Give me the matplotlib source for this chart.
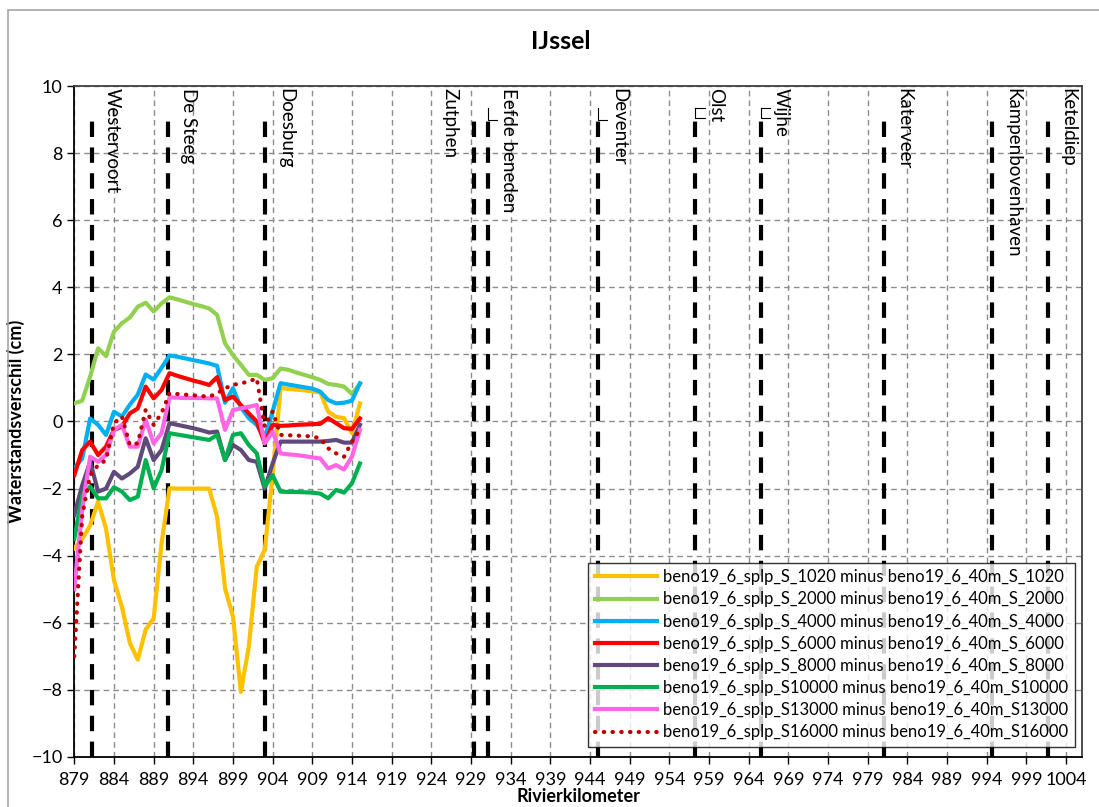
import matplotlib
matplotlib.use('Agg')
import matplotlib.pyplot as plt
from matplotlib.patches import Rectangle

plt.rcParams['font.family'] = ['Lato', 'DejaVu Sans']

# rivierkilometers (shared x for all series)
km = list(range(879, 916))

s1020 = [-3.78, -3.5, -3.1, -2.39, -3.19, -4.73, -5.52, -6.6, -7.1, -6.2, -5.87, -3.63, -1.99,
         -2.0, -2.0, -2.0, -2.0, -2.0, -2.84, -4.97, -5.82, -8.06, -6.7, -4.33, -3.83, -1.6,
         1.0, 0.97, 0.95, 0.93, 0.9, 0.87, 0.29, 0.14, 0.1, -0.35, 0.54]
s2000 = [0.54, 0.62, 1.34, 2.18, 1.95, 2.68, 2.93, 3.1, 3.42, 3.54, 3.28, 3.52, 3.7,
         3.64, 3.57, 3.5, 3.44, 3.37, 3.18, 2.33, 1.98, 1.69, 1.39, 1.39, 1.24, 1.29,
         1.58, 1.54, 1.46, 1.39, 1.32, 1.24, 1.12, 1.09, 1.04, 0.82, 1.12]
s4000 = [-1.4, -1.1, 0.09, -0.1, -0.4, 0.29, 0.15, 0.5, 0.8, 1.4, 1.25, 1.6, 1.97,
         1.93, 1.88, 1.83, 1.78, 1.73, 1.66, 0.56, 0.99, 0.42, 0.1, -0.1, -0.5, 0.3,
         1.14, 1.1, 1.06, 1.02, 0.98, 0.89, 0.64, 0.54, 0.56, 0.62, 1.14]
s6000 = [-1.6, -0.85, -0.6, -1.0, -0.75, -0.25, -0.15, 0.24, 0.39, 1.04, 0.69, 0.94, 1.44,
         1.36, 1.29, 1.22, 1.16, 1.09, 1.32, 0.64, 0.74, 0.49, 0.24, 0.0, -0.65, -0.1,
         -0.13, -0.12, -0.1, -0.09, -0.08, -0.07, 0.1, -0.05, -0.2, -0.22, 0.09]
s8000 = [-2.79, -1.9, -1.2, -2.09, -2.0, -1.5, -1.7, -1.55, -1.35, -0.5, -1.15, -0.85, -0.05,
         -0.1, -0.15, -0.2, -0.26, -0.33, -0.3, -1.15, -0.7, -0.85, -1.15, -1.2, -2.0, -1.25,
         -0.6, -0.6, -0.6, -0.6, -0.6, -0.6, -0.58, -0.55, -0.63, -0.63, -0.1]
s10000 = [-3.5, -2.2, -1.94, -2.29, -2.29, -1.96, -2.09, -2.34, -2.24, -1.15, -1.99, -1.45, -0.35,
          -0.39, -0.43, -0.47, -0.51, -0.55, -0.4, -1.15, -0.4, -0.35, -0.7, -0.95, -1.94, -1.6,
          -2.09, -2.1, -2.1, -2.11, -2.12, -2.15, -2.29, -2.04, -2.12, -1.84, -1.25]
s13000 = [-5.0, -2.6, -1.05, -1.2, -1.0, -0.25, -0.1, -0.75, -0.75, 0.05, -0.65, -0.35, 0.72,
          0.71, 0.7, 0.7, 0.7, 0.69, 0.69, -0.25, 0.34, 0.39, 0.44, 0.49, -0.65, -0.3,
          -0.95, -0.98, -1.0, -1.03, -1.07, -1.1, -1.4, -1.3, -1.43, -1.05, -0.25]
s16000 = [-7.0, -2.8, -1.6, -1.3, -1.15, -0.05, 0.15, -0.7, -0.65, 0.35, -0.1, 0.25, 0.84,
          0.82, 0.8, 0.78, 0.76, 0.74, 0.84, 0.99, 1.09, 1.14, 1.19, 1.29, -0.15, 0.3,
          -0.4, -0.41, -0.42, -0.43, -0.45, -0.5, -0.8, -0.95, -1.05, -0.6, -0.25]

series = [s1020, s2000, s4000, s6000, s8000, s10000, s13000, s16000]
labels = ['beno19_6_splp_S_1020 minus beno19_6_40m_S_1020',
          'beno19_6_splp_S_2000 minus beno19_6_40m_S_2000',
          'beno19_6_splp_S_4000 minus beno19_6_40m_S_4000',
          'beno19_6_splp_S_6000 minus beno19_6_40m_S_6000',
          'beno19_6_splp_S_8000 minus beno19_6_40m_S_8000',
          'beno19_6_splp_S10000 minus beno19_6_40m_S10000',
          'beno19_6_splp_S13000 minus beno19_6_40m_S13000',
          'beno19_6_splp_S16000 minus beno19_6_40m_S16000']
colors = ['#FFC000', '#92D050', '#00B0F0', '#FF0000', '#604A7B', '#00B050', '#FF66E6', '#C00000']

# plaatsen langs de IJssel
plaats_km = [881.2, 890.8, 903.1, 929.4, 931.1, 945.0, 957.3, 965.5, 981.0, 994.7, 1001.7]
plaats_naam = ['Westervoort', 'De Steeg', 'Doesburg', 'Zutphen', 'Eefde beneden', 'Deventer',
               'Olst', 'Wijhe', 'Katerveer', 'Kampenbovenhaven', 'Keteldiep']
# label links (Zutphen) of rechts van de lijn
plaats_kant = ['r', 'r', 'r', 'l', 'r', 'r', 'r', 'r', 'r', 'r', 'r']

fig = plt.figure(figsize=(10.99, 8.07), dpi=100)
ax = fig.add_axes([0.0676, 0.062, 0.9168, 0.8314])

# buitenrand van de grafiek
fig.patches.append(Rectangle((8 / 1099, -0.05), 1.1, 1 - 10 / 807 + 0.05, transform=fig.transFigure,
                             fill=False, edgecolor='#a6a6a6', linewidth=1.2))

for x in plaats_km:
    ax.plot([x, x], [-10, 9], color='black', lw=3.0, dashes=(3.7, 2.5), zorder=2,
            dash_capstyle='butt')
for x, naam, kant in zip(plaats_km, plaats_naam, plaats_kant):
    if kant == 'r':
        ax.text(x + 1.5, 9.95, naam, rotation=270, ha='left', va='top', fontsize=13.5, zorder=3)
    else:
        ax.text(x - 2.0, 9.95, naam, rotation=270, ha='right', va='top', fontsize=13.5, zorder=3)

# kleine verbindingslijntjes bij enkele labels
for i in [4, 5, 6, 7]:
    x = plaats_km[i]
    ax.plot([x, x, x + 1.2], [9.35, 9.0, 9.0] if i in [4, 5] else [9.35, 9.05, 9.05],
            color='black', lw=0.8, zorder=3)
    if i in [6, 7]:
        ax.plot([x, x + 1.2], [9.35, 9.35], color='black', lw=0.8, zorder=3)

for y, lab, c in zip(series, labels, colors):
    if lab.endswith('S16000'):
        ax.plot(km, y, color=c, lw=3, linestyle=(0, (0.1, 2.0)), dash_capstyle='round', label=lab, zorder=4)
    else:
        ax.plot(km, y, color=c, lw=3, label=lab, zorder=4)

ax.set_xlim(879, 1006)
ax.set_ylim(-10, 10)
ax.set_xticks(range(879, 1005, 5))
ax.set_yticks(range(-10, 11, 2))
ax.tick_params(axis='both', direction='out', length=5, width=1, labelsize=13, color='black')
ax.tick_params(axis='x', pad=6)
ax.grid(True, color='#8c8c8c', linestyle=(0, (4, 3)), linewidth=1)
ax.set_axisbelow(True)
for side in ['left', 'bottom']:
    ax.spines[side].set_color('black')
    ax.spines[side].set_linewidth(1.3)
for side in ['top', 'right']:
    ax.spines[side].set_color('#404040')
    ax.spines[side].set_linewidth(1.3)

ax.set_xlabel('Rivierkilometer', fontsize=13, fontweight='bold', labelpad=0)
ax.set_ylabel('Waterstandsverschil (cm)', fontsize=13, fontweight='bold')
ax.yaxis.set_label_coords(-0.049, 0.5)
fig.text(0.51, 0.948, 'IJssel', ha='center', va='center', fontsize=18, fontweight='bold')

leg = ax.legend(loc='lower right', bbox_to_anchor=(1075 / 1099, (807 - 747) / 807),
                bbox_transform=fig.transFigure, fontsize=12, frameon=True, fancybox=False,
                handlelength=3.7, handletextpad=0.4, borderaxespad=0, labelspacing=0.37,
                borderpad=0.4)
leg.get_frame().set_edgecolor('black')
leg.get_frame().set_linewidth(1)
leg.set_zorder(10)

fig.savefig('out.png', dpi=100, facecolor='white')
